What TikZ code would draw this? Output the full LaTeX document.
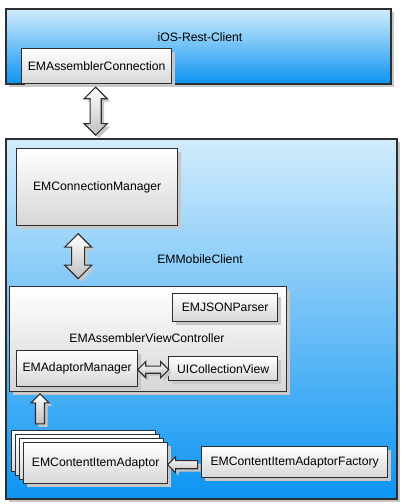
\documentclass[tikz,border=0pt]{standalone}
\usepackage{fontspec}
\setmainfont{Liberation Sans}
\usepackage{tikz}
\usetikzlibrary{calc,positioning,shapes.arrows,shadows}
\definecolor{edgegray}{HTML}{2E2E2E}
\definecolor{skytop}{HTML}{D2ECFC}
\definecolor{skybot}{HTML}{0C94F2}
\tikzstyle{shade} = [drop shadow={shadow xshift=3pt, shadow yshift=-3pt, fill=black!22, opacity=1}]
\tikzstyle{package} = [rectangle, draw=edgegray, line width=1.5pt, top color=skytop, bottom color=skybot,
                       anchor=north west, inner sep=0pt, shade]
\tikzstyle{cls}     = [rectangle, draw=edgegray, line width=1.3pt, top color=white, bottom color=black!16,
                       anchor=north west, inner sep=0pt, text centered, shade]
\tikzstyle{fat}     = [draw=edgegray, line width=1.1pt, top color=white, bottom color=black!25, shade]

\begin{document}
\begin{tikzpicture}[x=1pt, y=-1pt, font=\fontsize{12.2}{14}\selectfont,
            dblarrow/.style={fat, double arrow, inner sep=5pt, double arrow head extend=6pt},
            onearrow/.style={fat, single arrow, inner sep=3.5pt, single arrow head extend=4pt},
            card/.style={cls, minimum width=144pt, minimum height=41pt}]
        \useasboundingbox (0,0) rectangle (405,504);

        % iOS-Rest-Client package
        \node[package, minimum width=385pt, minimum height=75pt] (rest) at (5,8) {};
        \node (restlabel) at (200,37) {iOS-Rest-Client};
        \node[cls, minimum width=150pt, minimum height=35pt] (asmconn) at (21,48) {EMAssemblerConnection};

        % EMMobileClient package
        \node[package, minimum width=391pt, minimum height=360pt] (mobile) at (5,138) {};
        \node (mobilelabel) at (200,259) {EMMobileClient};
        \node[cls, minimum width=161pt, minimum height=77pt] (connmgr) at (16,148) {EMConnectionManager};

        \node[cls, minimum width=277pt, minimum height=105pt] (avc) at (9,286) {};
        \node (avclabel) at (147,338) {EMAssemblerViewController};
        \node[cls, minimum width=105pt, minimum height=28pt] (json) at (172,293) {EMJSONParser};
        \node[cls, minimum width=121pt, minimum height=36pt] (adaptmgr) at (16,350) {EMAdaptorManager};
        \node[cls, minimum width=109pt, minimum height=24pt] (uicv) at (168,356) {UICollectionView};

        \node[card] (cardA) at (11,430) {};
        \node[card] (cardB) at (15,434) {};
        \node[card] (cardC) at (19,438) {};
        \node[card] (item) at (23,442) {EMContentItemAdaptor};
        \node[cls, minimum width=186pt, minimum height=31pt] (factory) at (201,446) {EMContentItemAdaptorFactory};

        % block arrows
        \node[dblarrow, shape border rotate=90, minimum height=48pt, minimum width=23pt]
            (restlink) at ($(asmconn.south)!0.5!(asmconn.south |- mobile.north) + (-1,0)$) {};
        \node[dblarrow, shape border rotate=90, minimum height=45pt, minimum width=27pt]
            (mgrlink) at ($(connmgr.south)!0.5!(connmgr.south |- avc.north) + (-19,0)$) {};
        \node[dblarrow, inner sep=3pt, double arrow head extend=4.5pt, minimum height=31pt, minimum width=15pt]
            (viewlink) at ($(adaptmgr.east)!0.5!(uicv.west |- adaptmgr.east) + (0,1)$) {};
        \node[onearrow, shape border rotate=90, minimum height=30pt, minimum width=18pt]
            (itemlink) at ($(avc.south west)!0.5!(cardA.north west) + (30,0)$) {};
        \node[onearrow, shape border rotate=180, minimum height=30pt, minimum width=15pt]
            (factlink) at ($(item.east)!0.5!(factory.west) + (0,2)$) {};
    \end{tikzpicture}
\end{document}
